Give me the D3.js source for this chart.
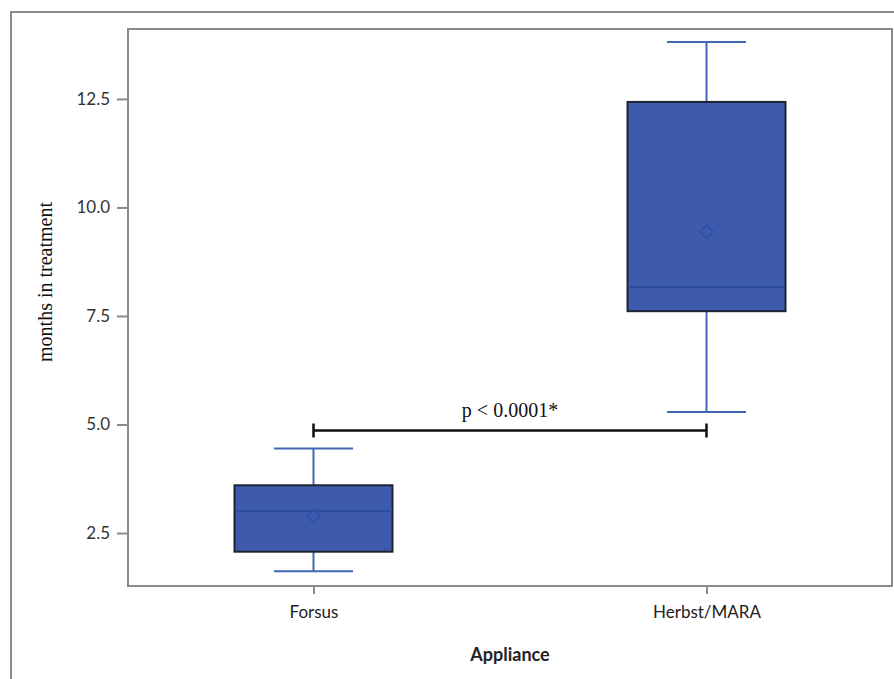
<!DOCTYPE html>
<html>
<head>
<meta charset="utf-8">
<script src="https://cdn.jsdelivr.net/npm/d3@7"></script>
<style>
  body { margin: 0; background: #fff; }
  svg { display: block; }
</style>
</head>
<body>
<main></main>
<script>
// data
const groups = ["Forsus", "Herbst/MARA"];
const whiskerLow = [1.62, 5.29];
const q1 = [2.07, 7.61];
const median = [3.01, 8.17];
const q3 = [3.60, 12.43];
const whiskerHigh = [4.45, 13.81];
const means = [2.89, 9.44];
const yTicks = [2.5, 5.0, 7.5, 10.0, 12.5];
const sigValue = 4.86;
const sigLabel = "p < 0.0001*";

const w = 894, h = 679,
  margin = {top: 29, right: 2, bottom: 93, left: 128},
  boxW = 158, capW = 79,
  fill = "#3d5aac", whiskerCol = "#4169b8", edge = "#1e2433", frame = "#8a8a8a";

const boxes = groups.map((g, i) => ({
  name: g, lo: whiskerLow[i], q1: q1[i], med: median[i], q3: q3[i], hi: whiskerHigh[i], mean: means[i]
}));

const svg = d3.select("main").append("svg")
  .attr("width", w)
  .attr("height", h);

// outer frame
svg.append("path")
  .attr("d", "M11," + (h + 2) + "V12H" + (w + 2))
  .attr("fill", "none")
  .attr("stroke", frame)
  .attr("stroke-width", 2);

const xScale = d3.scalePoint()
  .domain(groups)
  .range([margin.left, w - margin.right])
  .padding(0.472);

const yScale = d3.scaleLinear()
  .domain([1.28, 14.11])
  .range([h - margin.bottom, margin.top]);

// plot frame
svg.append("rect")
  .attr("x", margin.left)
  .attr("y", margin.top)
  .attr("width", w - margin.right - margin.left)
  .attr("height", h - margin.bottom - margin.top)
  .attr("fill", "none")
  .attr("stroke", frame)
  .attr("stroke-width", 2);

const yAxis = d3.axisLeft(yScale)
  .tickValues(yTicks)
  .tickFormat(d3.format(".1f"))
  .tickSize(11)
  .tickPadding(7);
const gy = svg.append("g")
  .attr("transform", "translate(" + margin.left + ",0)")
  .call(yAxis);
gy.select(".domain").remove();
gy.selectAll("line").attr("stroke", frame).attr("stroke-width", 2);
gy.selectAll("text")
  .attr("fill", "#333")
  .style("font-family", "Lato, 'Open Sans', sans-serif")
  .style("font-size", "17px");

const xAxis = d3.axisBottom(xScale)
  .tickSize(8)
  .tickPadding(12);
const gx = svg.append("g")
  .attr("transform", "translate(0," + (h - margin.bottom) + ")")
  .call(xAxis);
gx.select(".domain").remove();
gx.selectAll("line").attr("stroke", frame).attr("stroke-width", 2);
gx.selectAll("text")
  .attr("fill", "#222")
  .style("font-family", "Lato, 'Open Sans', sans-serif")
  .style("font-size", "17px");

// boxes
const bg = svg.selectAll(".box")
  .data(boxes)
  .enter()
  .append("g")
  .attr("class", "box")
  .attr("transform", (d) => "translate(" + xScale(d.name) + ",0)");

bg.append("line")
  .attr("y1", (d) => yScale(d.lo))
  .attr("y2", (d) => yScale(d.hi))
  .attr("stroke", whiskerCol)
  .attr("stroke-width", 2);

bg.selectAll(".cap")
  .data((d) => [d.lo, d.hi])
  .enter()
  .append("line")
  .attr("x1", -capW / 2)
  .attr("x2", capW / 2)
  .attr("y1", (v) => yScale(v))
  .attr("y2", (v) => yScale(v))
  .attr("stroke", whiskerCol)
  .attr("stroke-width", 2);

bg.append("rect")
  .attr("x", -boxW / 2)
  .attr("y", (d) => yScale(d.q3))
  .attr("width", boxW)
  .attr("height", (d) => yScale(d.q1) - yScale(d.q3))
  .attr("fill", fill)
  .attr("stroke", edge)
  .attr("stroke-width", 2);

bg.append("line")
  .attr("x1", -boxW / 2 + 1)
  .attr("x2", boxW / 2 - 1)
  .attr("y1", (d) => yScale(d.med))
  .attr("y2", (d) => yScale(d.med))
  .attr("stroke", "#2a4d9e")
  .attr("stroke-width", 2);

bg.append("path")
  .attr("d", d3.symbol(d3.symbolDiamond2, 110))
  .attr("transform", (d) => "translate(0," + yScale(d.mean) + ")")
  .attr("fill", "none")
  .attr("stroke", "#2f50a3")
  .attr("stroke-width", 1.5);

// significance bracket
const sy = yScale(sigValue),
  sx1 = xScale(groups[0]),
  sx2 = xScale(groups[1]);
svg.append("path")
  .attr("d", "M" + sx1 + "," + sy + "H" + sx2 + "M" + sx1 + "," + (sy - 7) + "V" + (sy + 7) + "M" + sx2 + "," + (sy - 7) + "V" + (sy + 7))
  .attr("fill", "none")
  .attr("stroke", "#111")
  .attr("stroke-width", 2.5);
svg.append("text")
  .attr("x", (sx1 + sx2) / 2)
  .attr("y", sy - 14)
  .attr("text-anchor", "middle")
  .style("font-family", "'Liberation Serif', 'DejaVu Serif', serif")
  .style("font-size", "20px")
  .attr("fill", "#111")
  .text(sigLabel);

// axis titles
svg.append("text")
  .attr("transform", "rotate(-90)")
  .attr("x", -282)
  .attr("y", 52)
  .attr("text-anchor", "middle")
  .style("font-family", "'Liberation Serif', 'DejaVu Serif', serif")
  .style("font-size", "20px")
  .attr("fill", "#111")
  .text("months in treatment");

svg.append("text")
  .attr("x", (margin.left + w - margin.right) / 2)
  .attr("y", 661)
  .attr("text-anchor", "middle")
  .style("font-family", "Lato, 'Open Sans', sans-serif")
  .style("font-size", "18px")
  .style("font-weight", "bold")
  .attr("fill", "#222")
  .text("Appliance");
</script>
</body>
</html>
